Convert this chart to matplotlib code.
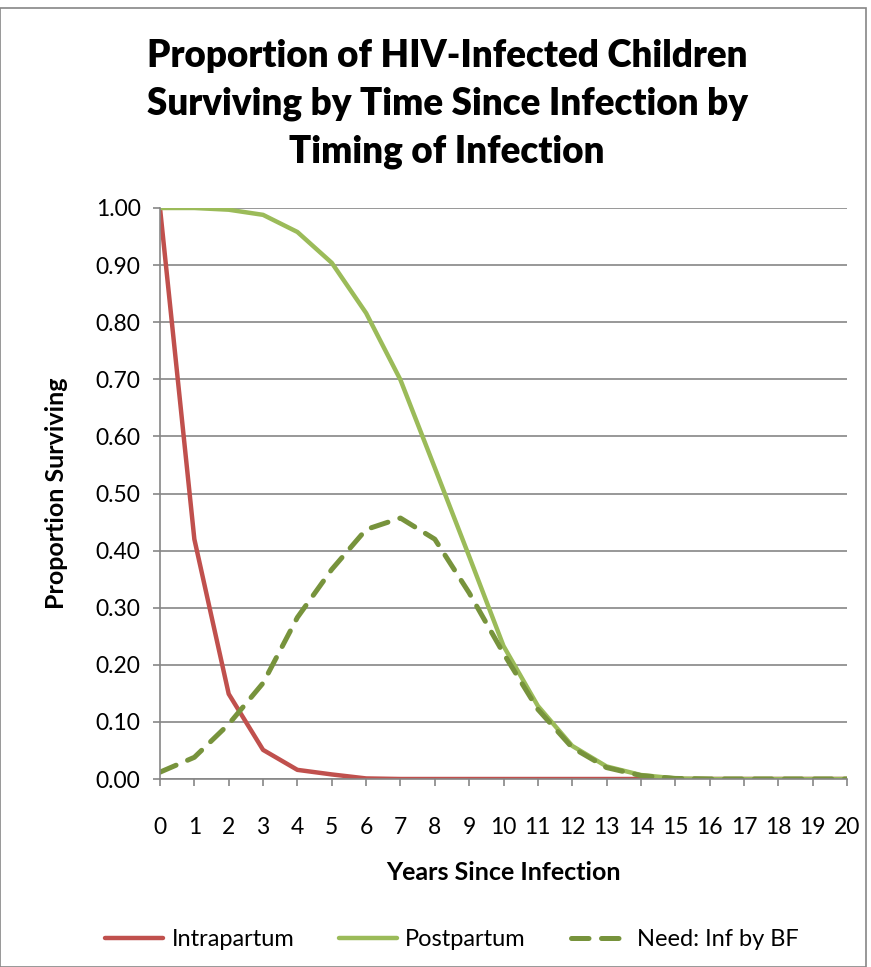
import numpy as np
import matplotlib.pyplot as plt
from matplotlib.patches import Rectangle

# данные
years = list(range(0, 21))
intrapartum = [1.0, 0.42, 0.149, 0.051, 0.016, 0.008, 0.001, 0, 0, 0, 0,
               0, 0, 0, 0, 0, 0, 0, 0, 0, 0]
postpartum = [1.0, 1.0, 0.997, 0.988, 0.958, 0.904, 0.816, 0.699, 0.545, 0.39, 0.233,
              0.128, 0.058, 0.022, 0.007, 0.001, 0, 0, 0, 0, 0]
need_bf = [0.012, 0.038, 0.096, 0.168, 0.283, 0.367, 0.437, 0.457, 0.42, 0.326, 0.22,
           0.122, 0.055, 0.02, 0.006, 0.001, 0, 0, 0, 0, 0]

plt.rcParams['font.family'] = ['Lato', 'DejaVu Sans']

fig = plt.figure(figsize=(8.71, 9.67), dpi=100)
W, H = 871, 967
ax = fig.add_axes([160 / W, 1 - 779 / H, (847 - 160) / W, (779 - 208) / H])

ax.plot(years, intrapartum, color='#C0504D', lw=3.2, label='Intrapartum', solid_capstyle='round')
ax.plot(years, postpartum, color='#9BBB59', lw=3.2, label='Postpartum', solid_capstyle='round')
ax.plot(years, need_bf, color='#77933C', lw=3.6, dashes=(3.5, 2.5), label='Need: Inf by BF',
        dash_capstyle='round')

ax.set_xlim(0, 20)
ax.set_ylim(0, 1.0)
ax.set_xticks(years)
ax.set_yticks(np.arange(0, 1.01, 0.1))
ax.set_yticklabels([f'{v:.2f}' for v in np.arange(0, 1.01, 0.1)])
ax.grid(axis='y', color='#868686', lw=1.2)
ax.set_axisbelow(True)
for s in ['top', 'right']:
    ax.spines[s].set_visible(False)
for s in ['left', 'bottom']:
    ax.spines[s].set_color('#868686')
    ax.spines[s].set_linewidth(1.2)
ax.tick_params(axis='both', colors='#868686', labelcolor='black', labelsize=16.5, length=5, width=1.2)
ax.tick_params(axis='x', pad=22)
ax.tick_params(axis='y', pad=9)

# подписи осей
ax.set_xlabel('Years Since Infection', fontsize=18, fontweight='bold')
ax.set_ylabel('Proportion Surviving', fontsize=18, fontweight='bold')
ax.xaxis.set_label_coords(0.5, (779 - 872) / 571)
ax.yaxis.set_label_coords((57 - 160) / 687, 0.5)
ax.xaxis.label.set_va('center')
ax.yaxis.label.set_va('center')

fig.text(447 / W, 1 - 104 / H,
         'Proportion of HIV-Infected Children\nSurviving by Time Since Infection by\nTiming of Infection',
         ha='center', va='center', fontsize=26.5, fontweight='heavy', linespacing=1.48)

fig.legend(loc='center', bbox_to_anchor=(452 / W, 1 - 940 / H), ncol=3, frameon=False,
           fontsize=17, handlelength=2.45, columnspacing=1.9, handletextpad=0.35)

# рамка вокруг диаграммы
fig.patches.append(Rectangle((0, 0), 866 / W, 1 - 8 / H, transform=fig.transFigure,
                             fill=False, edgecolor='#868686', lw=1.2))

plt.savefig('out.png', dpi=100)
